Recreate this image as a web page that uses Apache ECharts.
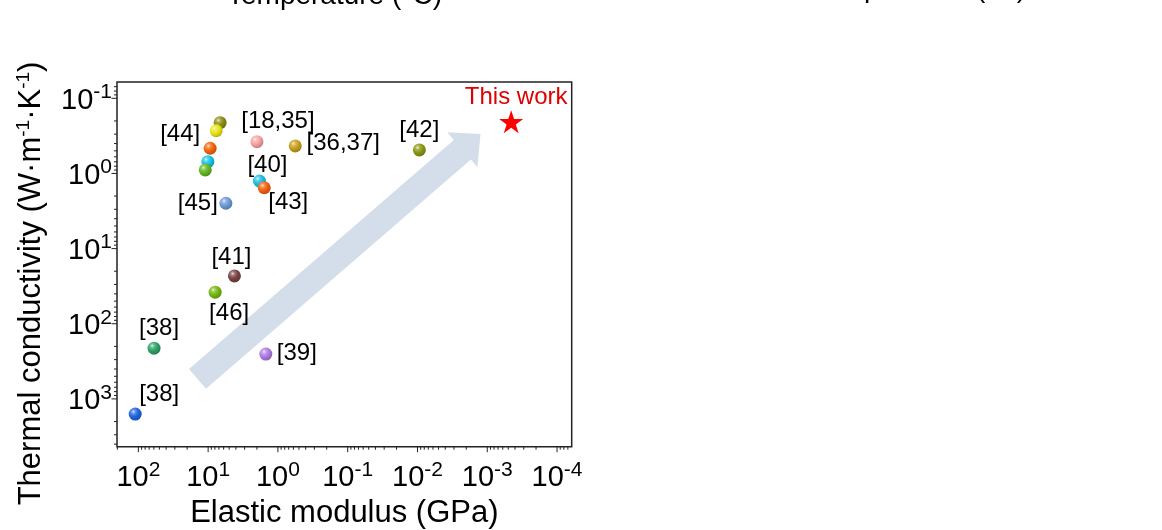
<!DOCTYPE html>
<html>
<head>
<meta charset="utf-8">
<script src="https://cdn.jsdelivr.net/npm/echarts@6.0.0/dist/echarts.min.js"></script>
<style>
html,body{margin:0;padding:0;background:#ffffff;}
#chart{width:1162px;height:530px;}
</style>
</head>
<body>
<div id="chart"></div>
<script>
// ---------------- data ----------------
const refLabels = ['[38]','[38]','[46]','[41]','[39]','[45]','','','','','[44]','[18,35]','[36,37]','[40]','[43]','[42]'];
const elasticModulus = [111, 59.6, 7.94, 4.2, 1.49, 5.57, 10.1, 11.0, 9.36, 6.73, 7.67, 2.0, 0.565, 1.84, 1.57, 0.0094];
const thermalConductivity = [1592, 211, 38, 23.1, 253, 2.49, 0.697, 0.898, 0.462, 0.211, 0.270, 0.378, 0.43, 1.26, 1.55, 0.486];
const thisWorkLabel = ['This work'];
const thisWorkModulus = [4.54e-4];
const thisWorkConductivity = [0.205];
const xMajorTicks = [100, 10, 1, 0.1, 0.01, 0.001, 0.0001];
const yMajorTicks = [0.1, 1, 10, 100, 1000];
const xAxisTitle = 'Elastic modulus (GPa)';
const yAxisTitleParts = ['Thermal conductivity (W·m', '-1', '·K', '-1', ')'];
const topTitles = ['Temperature (°C)', 'Temperature (°C)'];
const xLogRange = [-4.21, 2.306];
const yLogRange = [-1.217, 3.636];
const arrowTail = [14.2, 541];
const arrowTip = [1.25e-3, 0.299];

// ---------------- styles ----------------
const FONT = 'Liberation Sans, Arial, Helvetica, sans-serif';
const pointColors = ['#1f66e0','#2fa368','#76b812','#7a4444','#b07ae6','#6c9ad8','#14c4ea','#62b820','#f46608','#8c8c14','#e8e418','#f8a2a2','#c9a01c','#1cc0e2','#f26210','#8c9814'];
const labelOffsets = [[24,-20],[5,-20],[14,21],[-3,-19],[31,-1],[-28,0],[0,0],[0,0],[0,0],[0,0],[-36,4],[21,-20],[48,-3],[8,-16],[24,15],[0,-20]];

function mix(hex, target, t) {
  const a = parseInt(hex.slice(1), 16), b = parseInt(target.slice(1), 16);
  const ar = a >> 16, ag = (a >> 8) & 255, ab = a & 255;
  const br = b >> 16, bg = (b >> 8) & 255, bb = b & 255;
  const r = Math.round(ar + (br - ar) * t), g = Math.round(ag + (bg - ag) * t), bl = Math.round(ab + (bb - ab) * t);
  return 'rgb(' + r + ',' + g + ',' + bl + ')';
}
function sphere(c) {
  return {
    type: 'radial', x: 0.36, y: 0.32, r: 0.75,
    colorStops: [
      { offset: 0, color: mix(c, '#ffffff', 0.85) },
      { offset: 0.2, color: mix(c, '#ffffff', 0.3) },
      { offset: 0.5, color: c },
      { offset: 1, color: mix(c, '#000000', 0.25) }
    ]
  };
}
function powLabel(v) {
  const e = Math.log10(v), r = Math.round(e);
  if (Math.abs(e - r) > 1e-6) return '';
  return '{b|10}{s|' + r + '}';
}

const xMin = Math.pow(10, xLogRange[0]), xMax = Math.pow(10, xLogRange[1]);
const yMin = Math.pow(10, yLogRange[0]), yMax = Math.pow(10, yLogRange[1]);

function minorList(lo, hi) {
  const out = [];
  for (let e = Math.floor(lo) - 1; e <= Math.ceil(hi); e++) {
    for (let k = 2; k <= 9; k++) {
      const v = k * Math.pow(10, e);
      const lv = Math.log10(v);
      if (lv > lo && lv < hi) out.push(v);
    }
  }
  return out;
}
// tick items: [x, y, kind] kind 0 x-major, 1 x-minor, 2 y-major, 3 y-minor
const tickItems = [];
xMajorTicks.forEach(v => tickItems.push([v, yMax, 0]));
minorList(xLogRange[0], xLogRange[1]).forEach(v => tickItems.push([v, yMax, 1]));
yMajorTicks.forEach(v => tickItems.push([xMax, v, 2]));
minorList(yLogRange[0], yLogRange[1]).forEach(v => tickItems.push([xMax, v, 3]));

const scatterData = elasticModulus.map((x, i) => ({
  value: [x, thermalConductivity[i]],
  itemStyle: { color: sphere(pointColors[i]), opacity: 1 },
  label: { show: refLabels[i] !== '', formatter: refLabels[i], offset: labelOffsets[i] }
}));
const starData = thisWorkModulus.map((x, i) => ({
  value: [x, thisWorkConductivity[i]],
  label: { show: true, formatter: thisWorkLabel[i], offset: [5, -24] }
}));

const chart = echarts.init(document.getElementById('chart'), null, { renderer: 'canvas' });

const axisCommon = {
  type: 'log', inverse: true,
  axisLine: { show: false }, axisTick: { show: false },
  splitLine: { show: false }, minorTick: { show: false }, minorSplitLine: { show: false }
};

function graphicTexts() {
  return [
    {
      type: 'text', id: 'ytitle', x: 31.5, y: 283.5, rotation: Math.PI / 2,
      style: {
        text: '{m|' + yAxisTitleParts[0] + '}{s|' + yAxisTitleParts[1] + '}{m|' + yAxisTitleParts[2] + '}{s|' + yAxisTitleParts[3] + '}{m|' + yAxisTitleParts[4] + '}',
        align: 'center', verticalAlign: 'middle',
        rich: {
          m: { fontSize: 31, fontFamily: FONT, fill: '#000', color: '#000' },
          s: { fontSize: 19, fontFamily: FONT, fill: '#000', color: '#000', padding: [0, 0, 16, 0] }
        }
      }
    },
    {
      type: 'text', id: 'top1', x: 227, y: -3.7,
      style: { text: topTitles[0], fontSize: 28, fontFamily: FONT, fill: '#000', align: 'left', verticalAlign: 'middle' }
    },
    {
      type: 'text', id: 'top2', x: 811, y: -10.7,
      style: { text: topTitles[1], fontSize: 28, fontFamily: FONT, fill: '#000', align: 'left', verticalAlign: 'middle' }
    }
  ];
}

const option = {
  animation: false,
  backgroundColor: '#ffffff',
  grid: {
    left: 117, right: 590.3, top: 82, bottom: 83.3,
    show: true, borderColor: '#222', borderWidth: 1.5, backgroundColor: 'transparent',
    outerBoundsMode: 'none', containLabel: false
  },
  xAxis: Object.assign({}, axisCommon, {
    min: xMin, max: xMax,
    axisLabel: {
      margin: 13, formatter: powLabel,
      rich: {
        b: { fontSize: 29, fontFamily: FONT, color: '#000' },
        s: { fontSize: 21, fontFamily: FONT, color: '#000', padding: [0, 0, 16, 0] }
      }
    },
    name: xAxisTitle, nameLocation: 'middle', nameGap: 47,
    nameTextStyle: { fontSize: 31, fontFamily: FONT, color: '#000' }
  }),
  yAxis: Object.assign({}, axisCommon, {
    min: yMin, max: yMax,
    axisLabel: {
      margin: 5, formatter: powLabel,
      rich: {
        b: { fontSize: 29, fontFamily: FONT, color: '#000', padding: [5, 0, 0, 0] },
        s: { fontSize: 21, fontFamily: FONT, color: '#000', padding: [0, 0, 12, 0] }
      }
    }
  }),
  graphic: graphicTexts(),
  series: [
    {
      type: 'custom', name: 'ticks', silent: true, z: 1, clip: false,
      data: tickItems,
      renderItem: function (params, api) {
        const kind = api.value(2);
        const p = api.coord([api.value(0), api.value(1)]);
        const len = (kind === 0 || kind === 2) ? 5.5 : 3;
        const shape = kind < 2
          ? { x1: p[0], y1: p[1], x2: p[0], y2: p[1] + len }
          : { x1: p[0] - len, y1: p[1], x2: p[0], y2: p[1] };
        return { type: 'line', shape: shape, style: { stroke: '#222', lineWidth: 1 } };
      }
    },
    {
      type: 'scatter', name: 'refs', z: 3,
      symbol: 'circle', symbolSize: 13,
      itemStyle: { opacity: 1 },
      data: scatterData,
      label: { position: 'inside', fontSize: 24, fontFamily: FONT, color: '#000', opacity: 1, textBorderWidth: 0, textBorderColor: 'transparent', textShadowBlur: 0, align: 'center', verticalAlign: 'middle' }
    },
    {
      type: 'scatter', name: 'this work', z: 4,
      symbol: 'path://M50,0 L61.8,35.1 L98.9,35.1 L68.9,57 L80.2,92.2 L50,70.5 L19.8,92.2 L31.1,57 L1.1,35.1 L38.2,35.1 Z',
      symbolSize: [24, 23],
      itemStyle: { color: '#ff0000', opacity: 1 },
      data: starData,
      label: { position: 'inside', fontSize: 24, fontFamily: FONT, color: '#e00000', opacity: 1, textBorderWidth: 0, textBorderColor: 'transparent', align: 'center', verticalAlign: 'middle' }
    }
  ]
};
chart.setOption(option);

// big trend arrow anchored in data coordinates
const finder = { xAxisIndex: 0, yAxisIndex: 0 };
const t0 = chart.convertToPixel(finder, arrowTail);
const t1 = chart.convertToPixel(finder, arrowTip);
const dx = t1[0] - t0[0], dy = t1[1] - t0[1], L = Math.hypot(dx, dy);
const ux = dx / L, uy = dy / L, nx = -uy, ny = ux;
const headLen = 24, headHalf = 23, shaftHalf = 13;
const bx = t1[0] - ux * headLen, by = t1[1] - uy * headLen;
const pts = [
  [t0[0] + nx * shaftHalf, t0[1] + ny * shaftHalf],
  [bx + nx * shaftHalf, by + ny * shaftHalf],
  [bx + nx * headHalf, by + ny * headHalf],
  [t1[0], t1[1]],
  [bx - nx * headHalf, by - ny * headHalf],
  [bx - nx * shaftHalf, by - ny * shaftHalf],
  [t0[0] - nx * shaftHalf, t0[1] - ny * shaftHalf]
];
chart.setOption({
  graphic: graphicTexts().concat([{
    type: 'polygon', id: 'arrow', z: 0, silent: true,
    shape: { points: pts },
    style: { fill: '#d4deea', stroke: null }
  }])
});
</script>
</body>
</html>
